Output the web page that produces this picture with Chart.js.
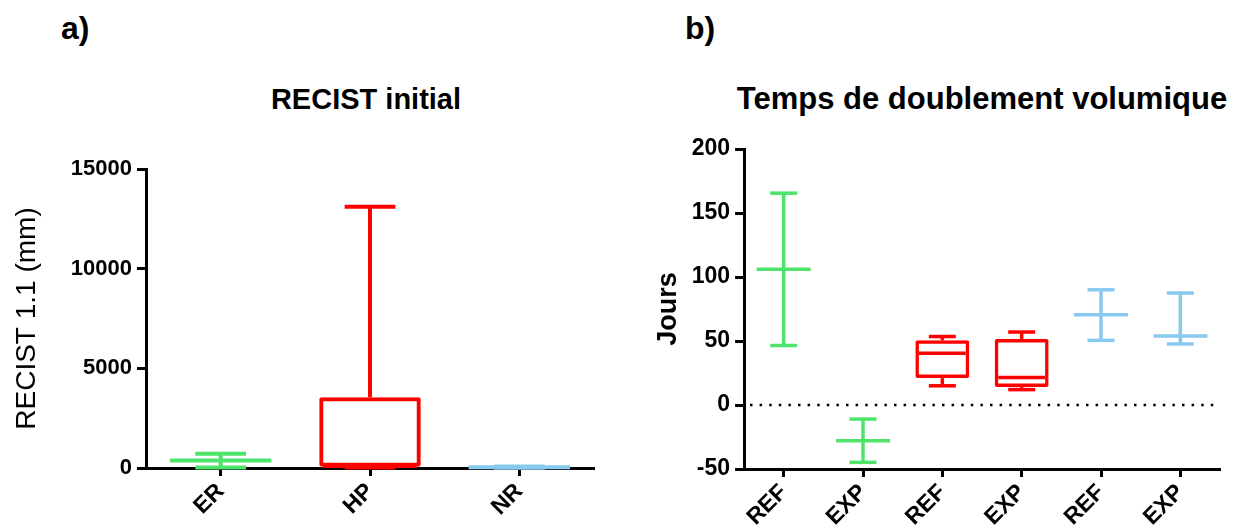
<!DOCTYPE html>
<html>
<head>
<meta charset="utf-8">
<script src="https://cdn.jsdelivr.net/npm/chart.js@4.4.1/dist/chart.umd.min.js"></script>
<style>
  html, body { margin:0; padding:0; background:#fff; }
  body { width:1241px; height:530px; position:relative; overflow:hidden; font-family:"Liberation Sans", Arial, sans-serif; }
  canvas { position:absolute; top:0; }
  .lbl { position:absolute; font-weight:bold; line-height:1; color:#000; white-space:nowrap; }
</style>
</head>
<body>
<div class="lbl" style="left:61px; top:12px; font-size:32px;">a)</div>
<div class="lbl" style="left:685px; top:12px; font-size:32px;">b)</div>
<div class="lbl" style="left:166px; top:85px; width:400px; text-align:center; font-size:29px;">RECIST initial</div>
<div class="lbl" style="left:732px; top:83px; width:500px; text-align:center; font-size:31px;">Temps de doublement volumique</div>
<canvas id="chartA" width="620" height="530" style="left:0"></canvas>
<canvas id="chartB" width="621" height="530" style="left:620px"></canvas>
<script>
// ---- a) RECIST initial ----
const catsA   = ['ER', 'HP', 'NR'];
const minA    = [20, 20, 10];
const q1A     = [null, 60, null];
const medA    = [370, 100, 40];
const q3A     = [null, 3550, null];
const maxA    = [720, 13100, 70];
const colorsA = ['#4ee36a', '#ff0000', '#88c9f0'];
const ticksA  = [0, 5000, 10000, 15000];

// ---- b) Temps de doublement volumique ----
const catsB   = ['REF', 'EXP', 'REF', 'EXP', 'REF', 'EXP'];
const minB    = [46.5, -44.8, 15, 12, 50.5, 47.7];
const q1B     = [null, null, 21, 14, null, null];
const medB    = [106, -28, 40.5, 21.5, 70.5, 54];
const q3B     = [null, null, 50.5, 51.5, null, null];
const maxB    = [165.5, -11, 53.5, 57, 90, 87.5];
const colorsB = ['#4ee36a', '#4ee36a', '#ff0000', '#ff0000', '#88c9f0', '#88c9f0'];
const ticksB  = [-50, 0, 50, 100, 150, 200];

const FONT = '"Liberation Sans", Arial, sans-serif';
const BAR_PCT = 0.68;

// whiskers, caps and medians drawn through the chart scales
const whiskers = {
  id: 'whiskers',
  beforeDatasetsDraw(chart, args, opts){
    if(!opts.zeroLine) return;
    const { ctx, chartArea, scales:{ y } } = chart;
    const py = y.getPixelForValue(0);
    ctx.save();
    ctx.strokeStyle = '#000';
    ctx.lineWidth = 2.5;
    ctx.setLineDash([2.5, 7.1]);
    ctx.beginPath();
    ctx.moveTo(chartArea.left + 6, py);
    ctx.lineTo(chartArea.right, py);
    ctx.stroke();
    ctx.restore();
  },
  afterDatasetsDraw(chart, args, opts){
    const { ctx, scales:{ x, y } } = chart;
    const step = x.getPixelForValue(1) - x.getPixelForValue(0);
    const boxW = step * BAR_PCT;
    const lw = opts.lineWidth;
    ctx.save();
    ctx.lineWidth = lw;
    ctx.lineCap = 'butt';
    opts.min.forEach((mn, i) => {
      const cx = x.getPixelForValue(i);
      const hasBox = opts.q1[i] != null;
      const seg = (x0, x1, y0, y1) => { ctx.beginPath(); ctx.moveTo(x0, y0); ctx.lineTo(x1, y1); ctx.stroke(); };
      ctx.strokeStyle = opts.colors[i];
      const yMin = y.getPixelForValue(mn), yMax = y.getPixelForValue(opts.max[i]);
      const yMed = y.getPixelForValue(opts.med[i]);
      if(hasBox){
        seg(cx, cx, y.getPixelForValue(opts.q3[i]), yMax);
        seg(cx, cx, yMin, y.getPixelForValue(opts.q1[i]));
        seg(cx - boxW/2 + lw, cx + boxW/2 - lw, yMed, yMed);
      } else {
        seg(cx, cx, yMin, yMax);
        seg(cx - boxW/2, cx + boxW/2, yMed, yMed);
      }
      seg(cx - boxW/4, cx + boxW/4, yMax, yMax);
      seg(cx - boxW/4, cx + boxW/4, yMin, yMin);
    });
    ctx.restore();
  }
};

function makeChart(id, cfg){
  const boxes = cfg.q1.map((v, i) => v == null ? null : [v, cfg.q3[i]]);
  return new Chart(document.getElementById(id), {
    type: 'bar',
    data: {
      labels: cfg.cats,
      datasets: [{
        data: boxes,
        backgroundColor: 'rgba(0,0,0,0)',
        borderColor: cfg.colors,
        borderWidth: cfg.lineWidth,
        borderSkipped: false,
        borderRadius: 2,
        barPercentage: BAR_PCT,
        categoryPercentage: 1
      }]
    },
    options: {
      responsive: false,
      animation: false,
      layout: { padding: cfg.padding },
      plugins: {
        legend: { display:false },
        tooltip: { enabled:false },
        whiskers: {
          min: cfg.min, q1: cfg.q1, med: cfg.med, q3: cfg.q3, max: cfg.max,
          colors: cfg.colors, lineWidth: cfg.lineWidth, zeroLine: cfg.zeroLine
        }
      },
      scales: {
        x: {
          offset: true,
          afterFit: s => { s.height = cfg.xHeight; },
          grid: { display:true, offset:false, drawOnChartArea:false, drawTicks:true, tickLength:8, tickWidth:3, tickColor:'#000' },
          border: { display:true, color:'#000', width:3 },
          ticks: { color:'#000', minRotation:45, maxRotation:45, padding:2, font:{ family:FONT, size:23, weight:'bold' } }
        },
        y: {
          min: cfg.ticks[0], max: cfg.ticks[cfg.ticks.length-1],
          afterFit: s => { s.width = cfg.yWidth; },
          afterBuildTicks: s => { s.ticks = cfg.ticks.map(v => ({ value:v })); },
          grid: { display:true, drawOnChartArea:false, drawTicks:true, tickLength:9, tickWidth:3, tickColor:'#000' },
          border: { display:true, color:'#000', width:3 },
          ticks: { color:'#000', padding:5, callback: v => String(v), font:{ family:FONT, size:cfg.tickSize, weight:'bold' } },
          title: { display:true, text:cfg.yTitle, color:'#000', padding:{ top:cfg.titlePad, bottom:0 },
                   font:{ family:FONT, size:cfg.titleSize, weight:cfg.titleWeight } }
        }
      }
    },
    plugins: [whiskers]
  });
}

makeChart('chartA', {
  cats: catsA, min: minA, q1: q1A, med: medA, q3: q3A, max: maxA, colors: colorsA, ticks: ticksA,
  lineWidth: 4, zeroLine: false,
  padding: { top:169, right:26, left:0, bottom:0 }, xHeight: 62, yWidth: 146,
  tickSize: 22, yTitle: 'RECIST 1.1 (mm)', titleSize: 28, titleWeight: 'normal', titlePad: 10
});

makeChart('chartB', {
  cats: catsB, min: minB, q1: q1B, med: medB, q3: q3B, max: maxB, colors: colorsB, ticks: ticksB,
  lineWidth: 3.5, zeroLine: true,
  padding: { top:149, right:21, left:0, bottom:0 }, xHeight: 61, yWidth: 124,
  tickSize: 23, yTitle: 'Jours', titleSize: 27, titleWeight: 'bold', titlePad: 32
});
</script>
</body>
</html>
